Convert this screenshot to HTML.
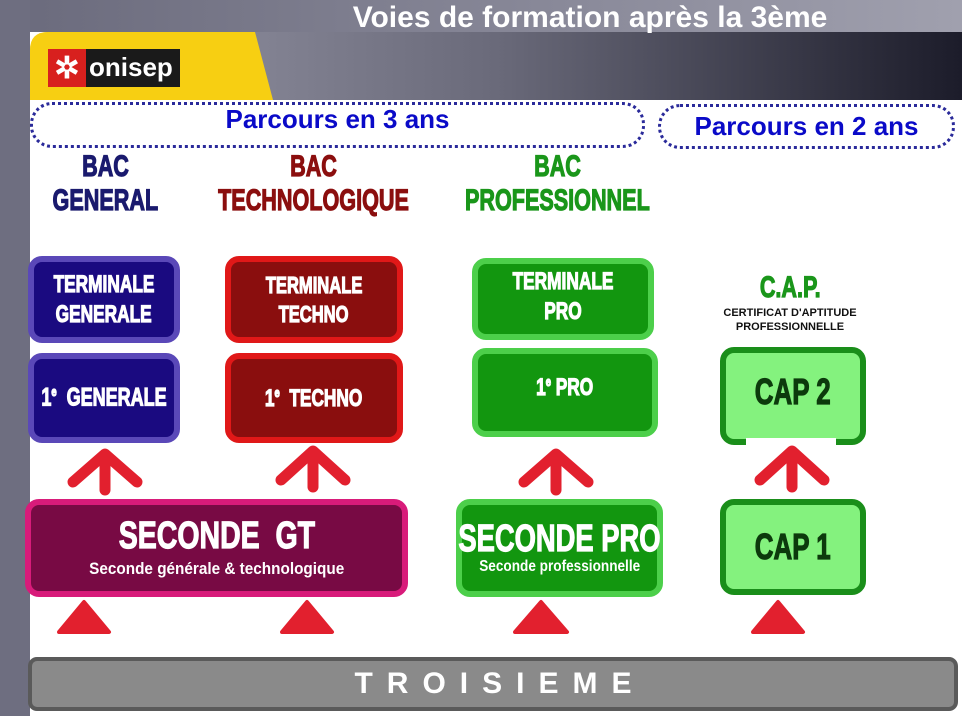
<!DOCTYPE html>
<html><head><meta charset="utf-8"><style>
*{margin:0;padding:0;box-sizing:border-box}
body{width:962px;height:716px;position:relative;overflow:hidden;background:#fff;font-family:"Liberation Sans",sans-serif}
.a{position:absolute}
.c{display:flex;align-items:center;justify-content:center;flex-direction:column;text-align:center}
.n{display:inline-block;font-weight:bold;transform:scaleX(.72);white-space:nowrap;line-height:1;-webkit-text-stroke:1.2px currentColor}
.box{position:absolute;border-radius:14px;border-style:solid;border-width:6px;display:flex;align-items:center;justify-content:center;flex-direction:column;color:#fff;text-align:center}
.g{background:#1a0a80;border-color:#5a48b8}
.t{background:#8a0e0e;border-color:#e01818}
.p{background:#12960f;border-color:#4ccf4a}
.cap{background:#84f27e;border-color:#1a8e1a;color:#0c3a0c}
.dot{position:absolute;border:3px dotted #2a2a9a;border-radius:22px;display:flex;align-items:center;justify-content:center;color:#0a0ac8;font-weight:bold;font-size:26px}
</style></head><body>
<div class="a" style="left:0;top:0;width:962px;height:32px;background:linear-gradient(90deg,#6a6a7c,#8a8a9a 60%,#a0a0ae)"></div>
<div class="a" style="left:0;top:0;width:30px;height:716px;background:#6e6e80"></div>
<div class="a" style="left:30px;top:32px;width:932px;height:68px;border-top-left-radius:18px;background:linear-gradient(90deg,#9a9aaa,#6a6a7a 50%,#1c1c2a)"></div>
<svg class="a" style="left:30px;top:32px" width="245" height="68"><path d="M18 0 L225 0 L243 68 L0 68 L0 18 Q0 0 18 0Z" fill="#f7cf12"/></svg>
<div class="a" style="left:280px;top:0;width:620px;height:36px;color:#fff;font-size:30px;font-weight:bold;text-align:center;line-height:36px">Voies de formation après la 3ème</div>
<div class="a" style="left:48px;top:49px;width:132px;height:38px;background:#1a1a1a"></div>
<div class="a c" style="left:48px;top:49px;width:38px;height:38px;background:#d8201e;color:#fff;font-size:30px;font-weight:bold">✲</div>
<div class="a" style="left:89px;top:49px;height:38px;line-height:36px;color:#fff;font-size:26px;font-weight:bold">onisep</div>
<div class="dot" style="left:30px;top:102px;width:615px;height:46px;padding-bottom:12px">Parcours en 3 ans</div>
<div class="dot" style="left:658px;top:104px;width:297px;height:45px">Parcours en 2 ans</div>
<div class="a c" style="left:5px;top:148px;width:200px;height:72px;color:#1a1a6e;font-size:30px"><span class="n">BAC</span><span class="n" style="margin-top:4px">GENERAL</span></div>
<div class="a c" style="left:193px;top:148px;width:240px;height:72px;color:#8b0e0e;font-size:30px"><span class="n">BAC</span><span class="n" style="margin-top:4px">TECHNOLOGIQUE</span></div>
<div class="a c" style="left:437px;top:148px;width:240px;height:72px;color:#1a961a;font-size:30px"><span class="n">BAC</span><span class="n" style="margin-top:4px">PROFESSIONNEL</span></div>
<div class="box g" style="left:28px;top:256px;width:152px;height:87px;font-size:24px"><span class="n">TERMINALE</span><span class="n" style="margin-top:6px">GENERALE</span></div>
<div class="box g" style="left:28px;top:353px;width:152px;height:90px;font-size:25px"><span class="n">1<sup style="font-size:13px">e</sup>&nbsp; GENERALE</span></div>
<div class="box t" style="left:225px;top:256px;width:178px;height:87px;font-size:23px"><span class="n">TERMINALE</span><span class="n" style="margin-top:6px">TECHNO</span></div>
<div class="box t" style="left:225px;top:353px;width:178px;height:90px;font-size:24px"><span class="n">1<sup style="font-size:13px">e</sup>&nbsp; TECHNO</span></div>
<div class="box p" style="left:472px;top:258px;width:182px;height:82px;font-size:24px;justify-content:flex-start;padding-top:6px"><span class="n">TERMINALE</span><span class="n" style="margin-top:6px">PRO</span></div>
<div class="box p" style="left:472px;top:348px;width:186px;height:89px;font-size:24px;padding-bottom:10px"><span class="n">1<sup style="font-size:13px">e</sup> PRO</span></div>
<div class="a c" style="left:690px;top:272px;width:200px;height:32px;color:#1a961a;font-size:30px"><span class="n">C.A.P.</span></div>
<div class="a c" style="left:680px;top:305px;width:220px;height:30px;color:#111;font-size:11px;font-weight:bold;line-height:14px">CERTIFICAT D'APTITUDE<br>PROFESSIONNELLE</div>
<div class="box cap" style="left:720px;top:347px;width:146px;height:98px;font-size:36px;padding-bottom:8px"><span class="n">CAP 2</span></div>
<div class="a" style="left:746px;top:438px;width:90px;height:8px;background:#fff"></div>
<div class="box" style="left:25px;top:499px;width:383px;height:98px;background:#780a44;border-color:#d81b7a"><span class="n" style="font-size:38px;transform:scaleX(.75)">SECONDE&nbsp; GT</span><span style="font-size:17px;font-weight:bold;margin-top:4px;display:inline-block;transform:scaleX(.9);white-space:nowrap">Seconde générale &amp; technologique</span></div>
<div class="box p" style="left:456px;top:499px;width:207px;height:98px"><span class="n" style="font-size:38px;transform:scaleX(.72)">SECONDE PRO</span><span style="font-size:16px;font-weight:bold;display:inline-block;transform:scaleX(.85);white-space:nowrap">Seconde professionnelle</span></div>
<div class="box cap" style="left:720px;top:499px;width:146px;height:96px;font-size:36px"><span class="n">CAP 1</span></div>
<svg class="a" style="left:0;top:0" width="962" height="716">
<g stroke="#e2202e" stroke-width="11" stroke-linecap="round" stroke-linejoin="round" fill="none">
<path d="M73 482 L105 454 L137 482 M105 456 L105 490"/>
<path d="M281 480 L313 451 L345 480 M313 453 L313 487"/>
<path d="M524 482 L556 454 L588 482 M556 456 L556 490"/>
<path d="M760 480 L792 451 L824 480 M792 453 L792 487"/>
</g>
<g fill="#e2202e" stroke="#e2202e" stroke-width="4" stroke-linejoin="round">
<path d="M84 602 L109 632 L59 632Z"/>
<path d="M307 602 L332 632 L282 632Z"/>
<path d="M541 602 L567 632 L515 632Z"/>
<path d="M778 602 L803 632 L753 632Z"/>
</g>
</svg>
<div class="a c" style="left:28px;top:657px;width:930px;height:54px;background:#8a8a8a;border:4px solid #5a5a5a;border-radius:9px;color:#fff;font-size:30px;font-weight:bold;letter-spacing:14px;padding-left:14px">TROISIEME</div>
</body></html>
